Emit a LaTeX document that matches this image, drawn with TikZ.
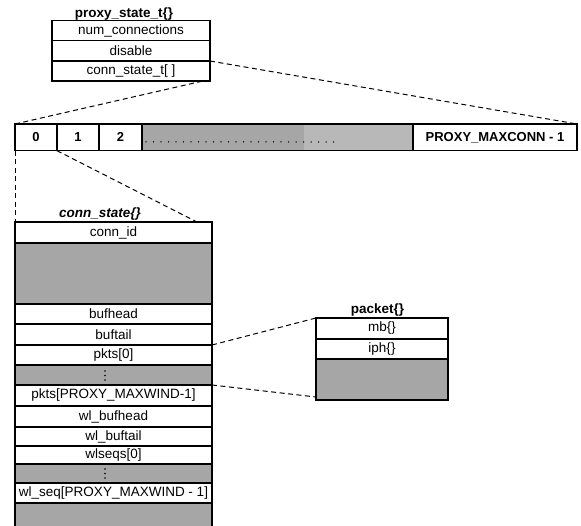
\documentclass[tikz,border=0pt]{standalone}
\usepackage{fontspec}
\setmainfont{Liberation Sans}
\begin{document}
\begin{tikzpicture}[x=1pt,y=-1pt,
  cell/.style={draw=black, line width=1.2pt, fill=white, anchor=north west,
    inner sep=0pt, outer sep=0pt, font=\fontsize{13.5}{15}\selectfont},
  shade/.style={cell, fill=black!35},
  idx/.style={cell, font=\fontsize{13}{15}\selectfont\bfseries},
  title/.style={anchor=base, inner sep=0pt, font=\fontsize{13.5}{15}\selectfont\bfseries},
  link/.style={draw=black, line width=1pt, dash pattern=on 5pt off 3.5pt},
  dot/.style={fill=black, circle, inner sep=0pt, minimum size=1.6pt}]
\useasboundingbox (0,0) rectangle (581,526);

% proxy_state_t structure
\node[title] (pstitle) at (124,17.5) {proxy\_state\_t\{\}};
\node[cell, minimum width=158, minimum height=20] (psnum) at (52,20.7) {num\_connections};
\node[cell, minimum width=158, minimum height=20.3] (psdis) at (52,40.7) {disable};
\node[cell, minimum width=158, minimum height=20] (psconn) at (52,61) {conn\_state\_t[ ]};

% connection array
\node[idx, minimum width=42, minimum height=26.7] (a0) at (15,124) {0};
\node[idx, minimum width=42, minimum height=26.7] (a1) at (57,124) {1};
\node[idx, minimum width=43, minimum height=26.7] (a2) at (99,124) {2};
\node[shade, minimum width=271, minimum height=26.7] (agap) at (142,124) {};
\fill[black!28] (304,124.6) rectangle (412.4,150.1);
\draw[line width=1.2pt] (agap.north west) rectangle (agap.south east);
\foreach \i in {0,...,25} \node[dot, minimum size=1.5pt] (ad\i) at (146+7.5*\i,142) {};
\node[idx, minimum width=164, minimum height=26.7] (alast) at (413,124) {PROXY\_MAXCONN - 1};

% conn_state structure
\node[title, font=\fontsize{13.5}{15}\selectfont\bfseries\itshape] (cstitle) at (100,218) {conn\_state\{\}};
\node[cell, minimum width=197, minimum height=21] (csid) at (15,222) {conn\_id};
\node[shade, minimum width=197, minimum height=61] (csg0) at (15,243) {};
\node[cell, minimum width=197, minimum height=20] (cshead) at (15,304) {bufhead};
\node[cell, minimum width=197, minimum height=21] (cstail) at (15,324) {buftail};
\node[cell, minimum width=197, minimum height=20] (cspk0) at (15,345) {pkts[0]};
\node[shade, minimum width=197, minimum height=20] (csg1) at (15,365) {};
\node[cell, minimum width=197, minimum height=21] (cspkn) at (15,385) {pkts[PROXY\_MAXWIND-1]};
\node[cell, minimum width=197, minimum height=21] (cswlh) at (15,406) {wl\_bufhead};
\node[cell, minimum width=197, minimum height=19] (cswlt) at (15,427) {wl\_buftail};
\node[cell, minimum width=197, minimum height=18] (csws0) at (15,446) {wlseqs[0]};
\node[shade, minimum width=197, minimum height=19] (csg2) at (15,464) {};
\node[cell, minimum width=197, minimum height=20] (cswsn) at (15,483) {wl\_seq[PROXY\_MAXWIND - 1]};
\node[shade, draw=none, minimum width=197, minimum height=23] (csg3) at (15,503) {};
\draw[line width=1.2pt] (csg3.south west) -- (csg3.north west) -- (csg3.north east) -- (csg3.south east);
\foreach \k in {0,1,2} {
  \node[dot] (g1d\k) at (105,371+4.5*\k) {};
  \node[dot] (g2d\k) at (105,469+4.5*\k) {};
}

% packet structure
\node[title] (pktitle) at (377.5,314) {packet\{\}};
\node[cell, minimum width=132, minimum height=21] (pkmb) at (316,318) {mb\{\}};
\node[cell, minimum width=132, minimum height=20] (pkiph) at (316,339) {iph\{\}};
\node[shade, minimum width=132, minimum height=41] (pkrest) at (316,359) {};

% dashed expansion lines
\draw[link] (a0.north west) -- ([xshift=-7pt]psconn.south east);
\draw[link] (psdis.south east) -- (alast.north east);
\draw[link] (a0.south west) -- (csid.north west);
\draw[link] (a0.south east) -- ([xshift=-15pt]csid.north east);
\draw[link] (cstail.south east) -- (pkmb.north west);
\draw[link] (csg1.south east) -- ([yshift=3pt]pkrest.south west);
\end{tikzpicture}
\end{document}
